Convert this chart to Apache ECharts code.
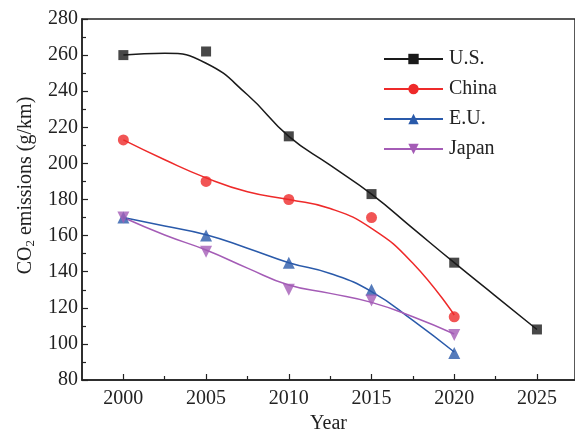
<!DOCTYPE html>
<html>
<head>
<meta charset="utf-8">
<script src="https://cdn.jsdelivr.net/npm/echarts@6/dist/echarts.min.js"></script>
<style>
  html, body { margin: 0; padding: 0; background: #fff; }
  #chart { width: 575px; height: 429px; }
</style>
</head>
<body>
<div id="chart"></div>
<script>
// 年份 (markers) 與刻度
const years = [2000, 2005, 2010, 2015, 2020, 2025]
const minorYears = [2002.5, 2007.5, 2012.5, 2017.5, 2022.5]
// 曲線讀值的年份 (every 2.5 yr)
const curveYears = [2000, 2002.5, 2005, 2007.5, 2010, 2012.5, 2015, 2017.5, 2020, 2022.5, 2025]

// 資料點 (markers)
const usPoints = [260, 262, 215, 183, 145, 108]
const chinaPoints = [213, 190, 180, 170, 115]
const euPoints = [170, 160, 145, 130, 95]
const japanPoints = [170, 151, 130, 124, 105]

// 擬合曲線
const usCurve = [260, 261, 255.5, 238, 215, 199, 183, 164, 145, 126.5, 108]
const chinaCurve = [213, 202, 192, 184.3, 180, 175, 164, 144.7, 116]
const euCurve = [170, 165.3, 160.5, 153, 145, 139, 129, 113, 95.5]
const japanCurve = [170, 160.3, 152, 142, 132.6, 128, 123, 115, 105.5]

const fontFamily = '"Liberation Serif", "DejaVu Serif", serif'
const axisColor = '#222'

const pair = (xs, vals) => vals.map((v, i) => [xs[i], v])

const makeSeries = (name, color, symbol, size, curve, points) => [
  {
    name: name,
    type: 'line',
    data: pair(curveYears, curve),
    smooth: 0.5,
    symbol: symbol,
    symbolSize: size,
    showSymbol: false,
    itemStyle: { color: color },
    lineStyle: { color: color, width: 1.5 },
    z: 2,
  },
  {
    name: name + '-pt',
    type: 'scatter',
    data: pair(years, points),
    symbol: symbol,
    symbolSize: size,
    itemStyle: { color: color },
    z: 3,
  },
]

const myChart = echarts.init(document.getElementById('chart'))

const option = {
  animation: false,
  textStyle: { fontFamily: fontFamily },
  grid: {
    left: 82,
    right: 0,
    top: 19,
    bottom: 49,
    outerBoundsMode: 'none',
    show: true,
    borderColor: axisColor,
    borderWidth: 1.5,
  },
  legend: {
    left: 378,
    top: 44,
    orient: 'vertical',
    itemWidth: 59,
    itemHeight: 13,
    itemGap: 10,
    data: ['U.S.', 'China', 'E.U.', 'Japan'],
    textStyle: { fontFamily: fontFamily, fontSize: 20, color: axisColor, padding: [0, 0, 0, 1] },
  },
  xAxis: [
    {
      type: 'value',
      min: 1997.5,
      max: 2027.3,
      name: 'Year',
      nameLocation: 'middle',
      nameGap: 33,
      nameTextStyle: { fontFamily: fontFamily, fontSize: 20, color: axisColor },
      axisLine: { lineStyle: { color: axisColor, width: 1.5 } },
      axisTick: { inside: true, length: 6, customValues: years, lineStyle: { color: axisColor, width: 1.2 } },
      axisLabel: {
        customValues: years,
        margin: 9,
        formatter: (v) => String(v),
        fontFamily: fontFamily,
        fontSize: 20,
        color: axisColor,
      },
      splitLine: { show: false },
    },
    {
      type: 'value',
      min: 1997.5,
      max: 2027.3,
      position: 'bottom',
      offset: 0,
      axisLine: { show: false },
      axisTick: { inside: true, length: 4, customValues: minorYears, lineStyle: { color: axisColor, width: 1.2 } },
      axisLabel: { show: false },
      splitLine: { show: false },
    },
  ],
  yAxis: {
    type: 'value',
    min: 80,
    max: 280,
    interval: 20,
    name: '{n|CO}{s|2}{n| emissions (g/km)}',
    nameLocation: 'middle',
    nameGap: 43,
    nameRotate: 90,
    nameTextStyle: {
      padding: [0, 0, 0, 28],
      rich: {
        n: { fontFamily: fontFamily, fontSize: 20, color: axisColor },
        s: { fontFamily: fontFamily, fontSize: 13, color: axisColor, padding: [10, 0, 0, 0] },
      },
    },
    axisLine: { show: true, lineStyle: { color: axisColor, width: 1.5 } },
    axisTick: { inside: true, length: 6, lineStyle: { color: axisColor, width: 1.2 } },
    minorTick: { show: true, splitNumber: 2, length: 4, lineStyle: { color: axisColor, width: 1.2 } },
    axisLabel: { margin: 4, fontFamily: fontFamily, fontSize: 20, color: axisColor },
    splitLine: { show: false },
  },
  series: [
    ...makeSeries('U.S.', '#1a1a1a', 'rect', 10, usCurve, usPoints),
    ...makeSeries('China', '#ee2a2a', 'circle', 11, chinaCurve, chinaPoints),
    ...makeSeries('E.U.', '#2a5aaa', 'triangle', 12, euCurve, euPoints),
    ...makeSeries('Japan', '#a45cb6', 'path://M0,0 L10,0 L5,9 Z', 12, japanCurve, japanPoints),
  ],
}

myChart.setOption(option)
</script>
</body>
</html>
